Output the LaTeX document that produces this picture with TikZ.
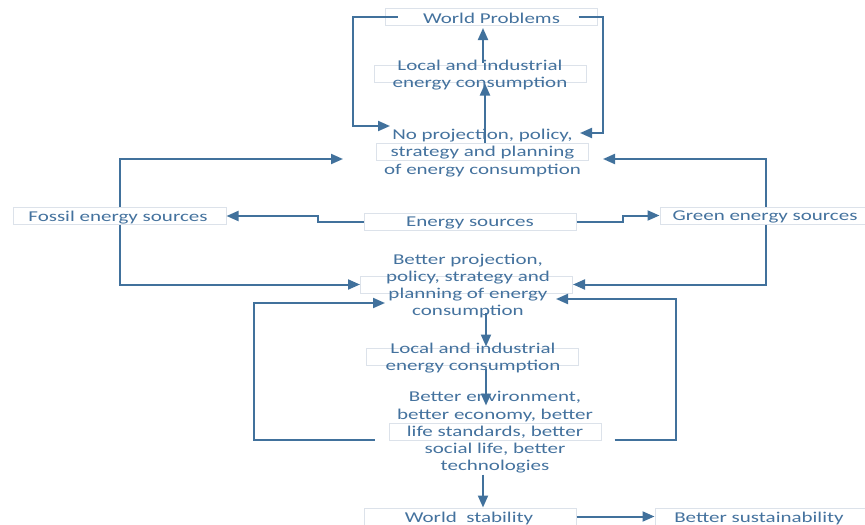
\documentclass[tikz,border=0pt]{standalone}
\usepackage{fontspec}
\setmainfont{Carlito}[FakeStretch=1.4]
\usetikzlibrary{arrows.meta,calc}
\definecolor{txt}{RGB}{68,114,158}
\definecolor{ln}{RGB}{65,113,156}
\definecolor{bx}{RGB}{220,226,234}
\begin{document}
\begin{tikzpicture}[x=0.75pt,y=-0.75pt,
  box/.style={draw=bx,line width=0.75pt,fill=white,minimum width=159pt,minimum height=12.75pt,inner sep=0pt},
  lbl/.style={text=txt,align=center,inner sep=0pt,font=\fontsize{11.25}{12.9}\selectfont},
  arr/.style={draw=ln,line width=1.5pt,-{Triangle[length=9pt,width=7.5pt]}}]
\useasboundingbox (0,0) rectangle (865,525);
% boxes
\node[box] (bWP) at (491,17) {};
\node[box] (bL1) at (480,73.5) {};
\node[box] (bNP) at (482.5,151.5) {};
\node[box,minimum width=159.75pt] (bFo) at (119.5,216) {};
\node[box] (bES) at (470,221.5) {};
\node[box,minimum width=153.75pt] (bGr) at (762.5,215.5) {};
\node[box] (bBP) at (466.5,284.5) {};
\node[box] (bL2) at (472,356.5) {};
\node[box] (bBE) at (495,432) {};
\node[box] (bWS) at (470,516.5) {};
\node[box,minimum width=157.5pt] (bBS) at (760,516.5) {};
% texts
\node[lbl] (tWP) at (491.5,18.5) {World Problems};
\node[lbl] (tL1) at (480,75) {Local and industrial\\energy consumption};
\node[lbl] (tNP) at (482.5,153) {No projection, policy,\\strategy and planning\\of energy consumption};
\node[lbl] (tFo) at (118,218) {Fossil energy sources};
\node[lbl] (tES) at (470,223) {Energy sources};
\node[lbl] (tGr) at (765,217) {Green energy sources};
\node[lbl] (tBP) at (468,286) {Better projection,\\policy, strategy and\\planning of energy\\consumption};
\node[lbl] (tL2) at (473,358) {Local and industrial\\energy consumption};
\node[lbl] (tBE) at (495,432.5) {Better environment,\\better economy, better\\life standards, better\\social life, better\\technologies};
\node[lbl] (tWS) at (469,518) {World\ \ stability};
\node[lbl] (tBS) at (759,518) {Better sustainability};
% named free ends
\coordinate (npL) at (390,126);
\coordinate (npR) at (580,133);
\coordinate (npFo) at (343,159);
\coordinate (npGr) at (603,159);
\coordinate (bpL) at (385,303);
\coordinate (bpR) at (556,299);
% connectors
\draw[arr] ($(bL1.north)+(3,-2)$) -- ($(bWP.south)+(-8,2)$);
\draw[arr] ($(bNP.north)+(2.5,0)$) -- ($(bL1.south)+(5,1)$);
\draw[arr] ($(bWP.west)+(13,0)$) -- ++(-45,0) |- (npL);
\draw[arr] ($(bWP.east)+(-19,0)$) -- ++(24,0) |- (npR);
\draw[arr] (bFo.north) |- (npFo);
\draw[arr] (bFo.south) |- (bBP.west);
\draw[arr] (bES.west) -- ++(-46,0) |- (bFo.east);
\draw[arr] (bES.east) -- ++(46,0) |- (bGr.west);
\draw[arr] ($(bGr.north)+(3.5,0)$) |- (npGr);
\draw[arr] ($(bGr.south)+(3.5,0)$) |- (bBP.east);
\draw[arr] ($(bL2.north)+(14,-35)$) -- ($(bL2.north)+(14,-1)$);
\draw[arr] ($(bL2.south)+(14,3)$) -- ($(bL2.south)+(14,40)$);
\draw[arr] ($(bBE.south west)+(-14,-1)$) -- ++(-121,0) |- (bpL);
\draw[arr] ($(bBE.south east)+(13,-1)$) -- ++(61,0) |- (bpR);
\draw[arr] ($(bWS.north)+(13,-33)$) -- ($(bWS.north)+(13,0)$);
\draw[arr] (bWS.east) -- (bBS.west);
\end{tikzpicture}
\end{document}
